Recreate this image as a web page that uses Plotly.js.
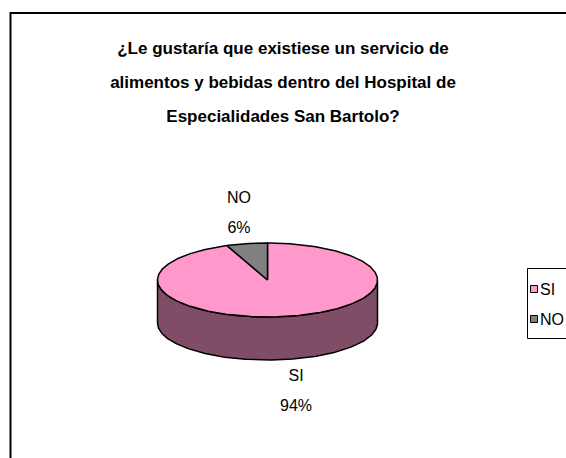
<!DOCTYPE html>
<html>
<head>
<meta charset="utf-8">
<script src="https://cdn.plot.ly/plotly-3.0.1.min.js"></script>
<style>html,body{margin:0;padding:0;background:#fff;}#chart{width:566px;height:458px;}</style>
</head>
<body>
<div id="chart"></div>
<script>
// ---- data ----
const categories = ['SI', 'NO'];
const values = [94, 6];
const topColors = ['#FF99CC', '#808080'];
const sideColors = ['#804D66', '#404040'];
const titleLines = [
  '¿Le gustaría que existiese un servicio de',
  'alimentos y bebidas dentro del Hospital de',
  'Especialidades San Bartolo?'
];

// ---- geometry (layout) ----
const W = 566, H = 458;
const cx = 267.5, cy = 280, rx = 110, ry = 37, depth = 43;
const FONT = '"Liberation Sans", Arial, sans-serif';

const total = values.reduce((a, b) => a + b, 0);
const rad = d => d * Math.PI / 180;
const px = a => cx + rx * Math.cos(rad(a));
const py = a => cy - ry * Math.sin(rad(a));

const traces = [];
const tops = [];
const annotations = [];
let start = 90; // first slice at 12 o'clock, clockwise
categories.forEach((cat, i) => {
  const sweep = values[i] / total * 360;
  const end = start - sweep;
  const n = Math.max(2, Math.ceil(sweep / 1));
  const angs = [];
  for (let k = 0; k <= n; k++) angs.push(start - sweep * k / n);

  // top face
  const tx = [cx], ty = [cy];
  angs.forEach(a => { tx.push(px(a)); ty.push(py(a)); });
  tx.push(cx); ty.push(cy);
  tops.push({
    type: 'scatter', mode: 'lines', x: tx, y: ty, fill: 'toself',
    fillcolor: topColors[i], line: {color: '#000', width: 1.5},
    hoverinfo: 'skip', showlegend: false
  });

  // side (front-facing parts of the arc)
  let run = [];
  const runs = [];
  angs.forEach(a => {
    if (Math.sin(rad(a)) <= 1e-9) run.push(a);
    else { if (run.length > 1) runs.push(run); run = []; }
  });
  if (run.length > 1) runs.push(run);
  runs.forEach(r => {
    const sx = [], sy = [];
    r.forEach(a => { sx.push(px(a)); sy.push(py(a)); });
    r.slice().reverse().forEach(a => { sx.push(px(a)); sy.push(py(a) + depth); });
    sx.push(sx[0]); sy.push(sy[0]);
    traces.push({
      type: 'scatter', mode: 'lines', x: sx, y: sy, fill: 'toself',
      fillcolor: sideColors[i], line: {color: '#000', width: 1.5},
      hoverinfo: 'skip', showlegend: false
    });
  });

  // data label
  const mid = (start + end) / 2;
  const s = Math.sin(rad(mid));
  const lx = cx + Math.cos(rad(mid)) * rx * 1.36;
  const ly = cy - s * ry * 1.85 + (s < 0 ? depth : 0);
  const pct = Math.round(values[i] / total * 100) + '%';
  annotations.push({
    x: lx, y: ly, xref: 'x', yref: 'y', showarrow: false,
    xanchor: 'center', yanchor: 'middle', align: 'center',
    text: '<span style="font-size:16px">' + cat + '</span><br><span style="font-size:16px">' + pct + '</span>',
    font: {family: FONT, size: 23, color: '#000'}
  });
  start = end;
});

// chart frame and manual legend
const shapes = [
  {type: 'rect', xref: 'x', yref: 'y', x0: 10.5, y0: 13, x1: 620, y1: 520,
   line: {color: '#000', width: 2}, fillcolor: 'rgba(0,0,0,0)', layer: 'below'},
  {type: 'rect', xref: 'x', yref: 'y', x0: 527.5, y0: 268.5, x1: 620, y1: 338.5,
   line: {color: '#000', width: 1}, fillcolor: '#fff', layer: 'below'}
];
const legendY = [289, 319];
categories.forEach((cat, i) => {
  shapes.push({type: 'rect', xref: 'x', yref: 'y',
    x0: 530.5, x1: 537.5, y0: legendY[i] - 3.5, y1: legendY[i] + 3.5,
    line: {color: '#000', width: 1}, fillcolor: topColors[i]});
  annotations.push({x: 537.5, y: legendY[i], xref: 'x', yref: 'y', showarrow: false,
    xanchor: 'left', yanchor: 'middle', text: cat,
    font: {family: FONT, size: 16, color: '#000'}});
});

const layout = {
  width: W, height: H,
  margin: {l: 0, r: 0, t: 0, b: 0},
  paper_bgcolor: '#fff', plot_bgcolor: '#fff',
  showlegend: false,
  title: {
    text: titleLines.map(t => '<span style="font-size:17px">' + t + '</span>').join('<br>'),
    font: {family: FONT, size: 26, color: '#000', weight: 'bold'},
    x: 0.5, xanchor: 'center', xref: 'paper',
    y: 1 - 54 / H, yanchor: 'top', yref: 'paper'
  },
  xaxis: {range: [0, W], visible: false, fixedrange: true},
  yaxis: {range: [H, 0], visible: false, fixedrange: true},
  shapes: shapes,
  annotations: annotations
};

Plotly.newPlot('chart', traces.concat(tops), layout, {displayModeBar: false, staticPlot: true});
</script>
</body>
</html>
